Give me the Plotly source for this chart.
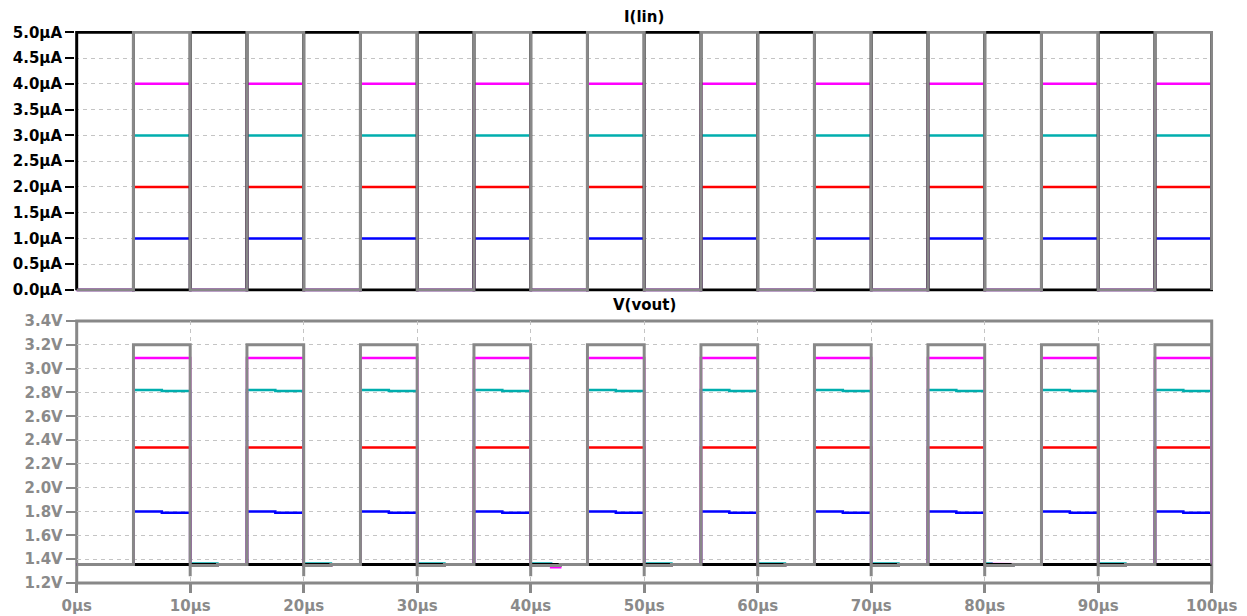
import plotly.graph_objects as go

# ---------------- data ----------------
t_rise = [5, 15, 25, 35, 45, 55, 65, 75, 85, 95]          # µs
t_mid = [7.5, 17.5, 27.5, 37.5, 47.5, 57.5, 67.5, 77.5, 87.5, 97.5]
t_fall = [10, 20, 30, 40, 50, 60, 70, 80, 90, 100]

step_colors = ["#0000FF", "#FF0000", "#00AEAE", "#FF00FF"]
gray = "#888888"
black = "#000000"

# I(lin) levels (µA)
i_on = [1.0, 2.0, 3.0, 4.0]
i_gray_on = 5.0
i_off = 0.0

# V(vout) levels (V)
v_on_first = [1.800, 2.338, 2.820, 3.090]
v_on_second = [1.789, 2.338, 2.812, 3.090]
v_gray_on = 3.20
v_off_late = 1.355          # settled off level
v_off_early = 1.347         # just after the falling edge
v_gray_undershoot = 1.257
v_black = 1.355
off_early_end = [12.4, 22.4, 32.4, 42.6, 52.4, 62.4, 72.4, 82.5, 92.4]

cyan_tail_start = [10, 20, 30, 40, 50, 60, 70, 80, 90]
cyan_tail_end = [12.4, 22.4, 32.4, 41.8, 52.4, 62.4, 72.4, 80.6, 92.4]
cyan_tail_v = [1.363] * 9
magenta_tail_start = [41.8, 80.6]
magenta_tail_end = [42.6, 82.5]
magenta_tail_v = [1.333, 1.360]

y_top_ticks = [0.0, 0.5, 1.0, 1.5, 2.0, 2.5, 3.0, 3.5, 4.0, 4.5, 5.0]
y_top_labels = ["0.0µA", "0.5µA", "1.0µA", "1.5µA", "2.0µA", "2.5µA",
                "3.0µA", "3.5µA", "4.0µA", "4.5µA", "5.0µA"]
y_bot_ticks = [1.2, 1.4, 1.6, 1.8, 2.0, 2.2, 2.4, 2.6, 2.8, 3.0, 3.2, 3.4]
y_bot_labels = ["1.2V", "1.4V", "1.6V", "1.8V", "2.0V", "2.2V", "2.4V",
                "2.6V", "2.8V", "3.0V", "3.2V", "3.4V"]
x_ticks = [0, 10, 20, 30, 40, 50, 60, 70, 80, 90, 100]
x_labels = ["0µs", "10µs", "20µs", "30µs", "40µs", "50µs", "60µs",
            "70µs", "80µs", "90µs", "100µs"]


# ---------------- polyline builders ----------------
def pulse(v_lo, v_hi):
    xs, ys = [0], [v_lo]
    for r, f in zip(t_rise, t_fall):
        xs += [r, r, f, f]
        ys += [v_lo, v_hi, v_hi, v_lo]
    return xs, ys


def inverse_pulse(v_lo, v_hi):
    xs, ys = [0, 0], [v_lo, v_hi]
    for r, f in zip(t_rise, t_fall):
        xs += [r, r, f, f]
        ys += [v_hi, v_lo, v_lo, v_hi]
    return xs, ys


def off_period(f, r_next, early_end, tails):
    """Step polyline for one off period; early level, then settled level, tails override."""
    bps = {f, r_next}
    if early_end is not None:
        bps.add(early_end)
    for s, e, _ in tails:
        if f <= s < r_next:
            bps.update([s, e])
    bps = sorted(b for b in bps if f <= b <= r_next)
    xs, ys = [], []
    for a, b in zip(bps[:-1], bps[1:]):
        lvl = v_off_early if (early_end is not None and a < early_end) else v_off_late
        for s, e, val in tails:
            if s <= a < e:
                lvl = val
        xs += [a, b]
        ys += [lvl, lvl]
    return xs, ys


def vout(v1, v2, tails):
    xs, ys = [0, t_rise[0]], [v_off_late, v_off_late]
    for k, (r, m, f) in enumerate(zip(t_rise, t_mid, t_fall)):
        xs += [r, m, m, f]
        ys += [v1, v1, v2, v2]
        if k + 1 < len(t_rise):
            ox, oy = off_period(f, t_rise[k + 1], off_early_end[k], tails)
            xs += ox
            ys += oy
        else:
            xs += [f]
            ys += [v_off_late]
    return xs, ys


def vout_gray():
    xs, ys = [0], [v_off_late]
    for k, (r, f) in enumerate(zip(t_rise, t_fall)):
        xs += [r, r, f]
        ys += [v_off_late, v_gray_on, v_gray_on]
        if k < len(off_early_end):
            xs += [f, f, off_early_end[k], off_early_end[k]]
            ys += [v_gray_undershoot, v_off_early, v_off_early, v_off_late]
        else:
            xs += [f]
            ys += [v_off_late]
    return xs, ys


fig = go.Figure()

# top panel: I(lin)
for c, v in zip(step_colors, i_on):
    xs, ys = pulse(i_off, v)
    fig.add_trace(go.Scatter(x=xs, y=ys, mode="lines", xaxis="x2", yaxis="y2",
                             line=dict(color=c, width=2.5)))
xs, ys = inverse_pulse(i_off, i_gray_on)
fig.add_trace(go.Scatter(x=xs, y=ys, mode="lines", xaxis="x2", yaxis="y2",
                         line=dict(color=black, width=3)))
xs, ys = pulse(i_off, i_gray_on)
fig.add_trace(go.Scatter(x=xs, y=ys, mode="lines", xaxis="x2", yaxis="y2",
                         line=dict(color=gray, width=3)))

# bottom panel: V(vout)
tails_per_step = [
    [],
    [],
    list(zip(cyan_tail_start, cyan_tail_end, cyan_tail_v)),
    list(zip(magenta_tail_start, magenta_tail_end, magenta_tail_v)),
]
for c, v1, v2, tl in zip(step_colors, v_on_first, v_on_second, tails_per_step):
    xs, ys = vout(v1, v2, tl)
    fig.add_trace(go.Scatter(x=xs, y=ys, mode="lines", xaxis="x", yaxis="y",
                             line=dict(color=c, width=2.5)))
fig.add_trace(go.Scatter(x=[0, 100], y=[v_black, v_black], mode="lines",
                         xaxis="x", yaxis="y", line=dict(color=black, width=3)))
xs, ys = vout_gray()
fig.add_trace(go.Scatter(x=xs, y=ys, mode="lines", xaxis="x", yaxis="y",
                         line=dict(color=gray, width=3)))

# ---------------- layout ----------------
FONT = "DejaVu Sans"
grid_kw = dict(showgrid=True, gridcolor="#C4C4C4", gridwidth=1, griddash="4px,4px",
               zeroline=False, automargin=False)
lab_gray = "#8a8a8a"

L, R, T, B = 75, 34, 31, 33
W, H = 1247, 616
pw = W - L - R
ph = H - T - B
x0_px, x100_px = 76.7, 1211.7
pxu = (x100_px - x0_px) / 100.0
bot_dom = [(x0_px - L) / pw, (x100_px - L) / pw]
top_range = [(L - x0_px) / pxu, (L + pw - x0_px) / pxu]

y_bot_top_px = 321.0
bot_ydom = [0, (H - B - y_bot_top_px) / ph]
top_ydom = [bot_ydom[1] + 0.0536, 1.0]
top_plot_top = T
top_plot_bot = H - B - top_ydom[0] * ph
pua = (290.0 - 32.3) / 5.0
top_yrange = [-(top_plot_bot - 290.0) / pua, 5.0 + (32.3 - top_plot_top) / pua]

fig.update_layout(
    width=W, height=H, autosize=False,
    margin=dict(l=L, r=R, t=T, b=B, pad=0, autoexpand=False),
    paper_bgcolor="white", plot_bgcolor="white",
    showlegend=False, hovermode=False,
    font=dict(family=FONT, size=15, color=black),
    xaxis=dict(domain=bot_dom, range=[0, 100], anchor="y",
               tickmode="array", tickvals=x_ticks, ticktext=x_labels,
               ticks="outside", ticklen=9, tickwidth=3, tickcolor=gray,
               tickfont=dict(family=FONT, size=15, color=lab_gray, weight="bold"),
               showline=False, **grid_kw),
    yaxis=dict(domain=bot_ydom, range=[1.2, 3.4], anchor="x",
               tickmode="array", tickvals=y_bot_ticks, ticktext=y_bot_labels,
               ticks="outside", ticklen=10, tickwidth=2, tickcolor=gray,
               tickfont=dict(family=FONT, size=15, color=lab_gray, weight="bold"),
               showline=False, **grid_kw),
    xaxis2=dict(domain=[0, 1], range=top_range, anchor="y2",
                tickmode="array", tickvals=x_ticks, showticklabels=False, ticks="",
                showline=False, **grid_kw),
    yaxis2=dict(domain=top_ydom, range=top_yrange, anchor="x2",
                tickmode="array", tickvals=y_top_ticks, ticktext=y_top_labels,
                ticks="outside", ticklen=9, tickwidth=2, tickcolor=black,
                tickfont=dict(family=FONT, size=15, color=black, weight="bold"),
                showline=False, **grid_kw),
    shapes=[
        dict(type="rect", xref="x domain", yref="y domain", x0=0, x1=1, y0=0, y1=1,
             line=dict(color=gray, width=3), layer="below"),
    ],
    annotations=[
        dict(text="I(lin)", xref="paper", yref="paper", x=0.5, y=1.0,
             yanchor="middle", yshift=14, showarrow=False,
             font=dict(family=FONT, size=15, color=black, weight="bold")),
        dict(text="V(vout)", xref="paper", yref="paper", x=0.5, y=bot_ydom[1],
             yanchor="middle", yshift=16, showarrow=False,
             font=dict(family=FONT, size=15, color=black, weight="bold")),
    ],
)

fig.write_html(
    "out.html",
    config={"displayModeBar": False},
    post_script="document.body.style.margin='0';document.body.style.overflow='hidden';",
)
